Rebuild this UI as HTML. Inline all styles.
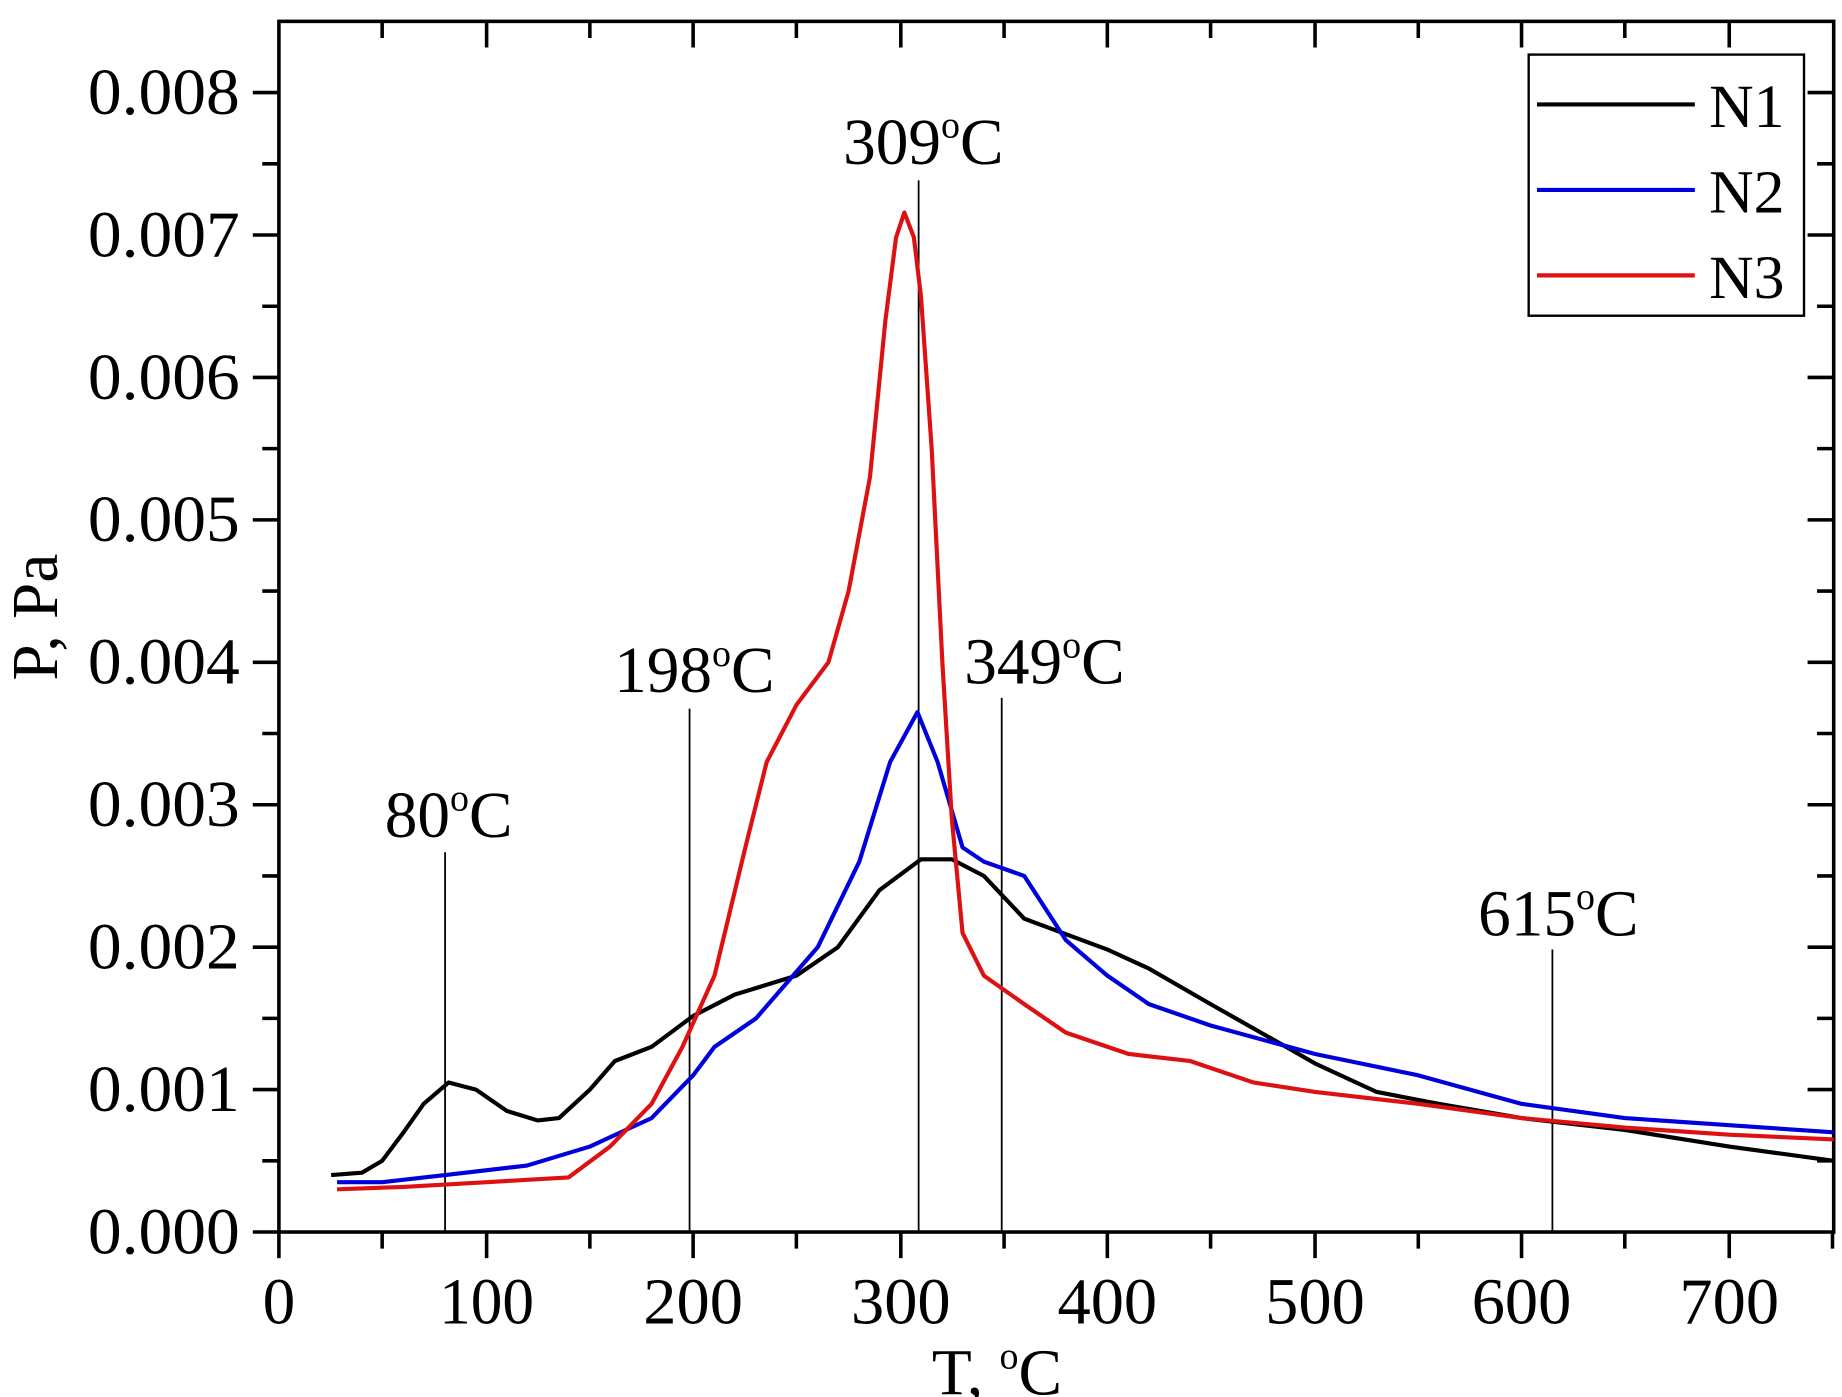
<!DOCTYPE html>
<html><head><meta charset="utf-8"><style>html,body{margin:0;padding:0;background:#fff}svg{display:block}</style></head>
<body>
<svg width="1842" height="1397" viewBox="0 0 1552 1177" preserveAspectRatio="none" xmlns="http://www.w3.org/2000/svg" font-family="Liberation Serif, serif">
<g stroke="#000" stroke-width="3">
<path d="M235,1038v22M322,1038v14M410,1038v22M497,1038v14M584,1038v22M671,1038v14M759,1038v22M846,1038v14M933,1038v22M1020,1038v14M1108,1038v22M1195,1038v14M1282,1038v22M1369,1038v14M1457,1038v22M1544,1038v14"/>
<path d="M322,18v14M410,18v22M497,18v14M584,18v22M671,18v14M759,18v22M846,18v14M933,18v22M1020,18v14M1108,18v22M1195,18v14M1282,18v22M1369,18v14M1457,18v22"/>
<path d="M213,78h22M221,138h14M213,198h22M221,258h14M213,318h22M221,378h14M213,438h22M221,498h14M213,558h22M221,618h14M213,678h22M221,738h14M213,798h22M221,858h14M213,918h22M221,978h14M213,1038h22"/>
<path d="M1545,78h-22M1545,138h-14M1545,198h-22M1545,258h-14M1545,318h-22M1545,378h-14M1545,438h-22M1545,498h-14M1545,558h-22M1545,618h-14M1545,678h-22M1545,738h-14M1545,798h-22M1545,858h-14M1545,918h-22M1545,978h-14"/>
</g>
<rect x="235" y="18" width="1310" height="1020" fill="none" stroke="#000" stroke-width="3"/>
<g stroke="#000" stroke-width="1.5">
<line x1="375" y1="1038" x2="375" y2="718"/>
<line x1="581" y1="1038" x2="581" y2="597"/>
<line x1="774" y1="1038" x2="774" y2="152"/>
<line x1="844" y1="1038" x2="844" y2="588"/>
<line x1="1308" y1="1038" x2="1308" y2="800"/>
</g>
<g fill="none" stroke-width="3.5" stroke-linejoin="round">
<polyline stroke="#000" points="279,990 305,988 322,978 340,954 357,930 378,912 401,918 427,936 453,944 471,942 497,918 518,894 549,882 584,856 619,838 671,822 706,798 741,750 776,724 802,724 829,738 863,774 933,800 968,816 1020,846 1073,876 1108,896 1160,920 1212,930 1282,942 1369,952 1457,966 1545,978"/>
<polyline stroke="#0000dd" points="284,996 322,996 375,990 444,982 497,966 549,942 584,906 602,882 637,858 689,798 724,726 750,642 773,600 790,642 811,714 829,726 863,738 898,792 933,822 968,846 1020,864 1108,888 1195,906 1282,930 1369,942 1457,948 1545,954"/>
<polyline stroke="#dd1111" points="284,1002 340,1000 410,996 479,992 514,966 549,930 575,882 602,822 628,714 646,642 671,594 698,558 715,498 733,402 746,270 755,200 762,179 770,200 776,250 785,378 794,558 802,690 811,786 829,822 863,846 898,870 951,888 1003,894 1056,912 1108,920 1195,930 1282,942 1369,950 1457,956 1545,960"/>
</g>
<g font-size="55" fill="#000" text-anchor="end">
<text x="202" y="96" textLength="128" lengthAdjust="spacingAndGlyphs">0.008</text><text x="202" y="216" textLength="128" lengthAdjust="spacingAndGlyphs">0.007</text><text x="202" y="336" textLength="128" lengthAdjust="spacingAndGlyphs">0.006</text><text x="202" y="456" textLength="128" lengthAdjust="spacingAndGlyphs">0.005</text><text x="202" y="576" textLength="128" lengthAdjust="spacingAndGlyphs">0.004</text><text x="202" y="696" textLength="128" lengthAdjust="spacingAndGlyphs">0.003</text><text x="202" y="816" textLength="128" lengthAdjust="spacingAndGlyphs">0.002</text><text x="202" y="936" textLength="128" lengthAdjust="spacingAndGlyphs">0.001</text><text x="202" y="1056" textLength="128" lengthAdjust="spacingAndGlyphs">0.000</text>
</g>
<g font-size="55" fill="#000" text-anchor="middle">
<text x="235" y="1115">0</text><text x="410" y="1115" textLength="80" lengthAdjust="spacingAndGlyphs">100</text><text x="584" y="1115" textLength="84" lengthAdjust="spacingAndGlyphs">200</text><text x="759" y="1115" textLength="84" lengthAdjust="spacingAndGlyphs">300</text><text x="933" y="1115" textLength="84" lengthAdjust="spacingAndGlyphs">400</text><text x="1108" y="1115" textLength="84" lengthAdjust="spacingAndGlyphs">500</text><text x="1282" y="1115" textLength="84" lengthAdjust="spacingAndGlyphs">600</text><text x="1457" y="1115" textLength="84" lengthAdjust="spacingAndGlyphs">700</text>
<text x="840" y="1175">T, <tspan font-size="32" dy="-22">o</tspan><tspan dy="22">C</tspan></text>
<text transform="translate(48,520) rotate(-90)">P, Pa</text>
<text x="378" y="705">80<tspan font-size="32" dy="-22">o</tspan><tspan dy="22">C</tspan></text>
<text x="585" y="583">198<tspan font-size="32" dy="-22">o</tspan><tspan dy="22">C</tspan></text>
<text x="778" y="138">309<tspan font-size="32" dy="-22">o</tspan><tspan dy="22">C</tspan></text>
<text x="880" y="576">349<tspan font-size="32" dy="-22">o</tspan><tspan dy="22">C</tspan></text>
<text x="1313" y="788">615<tspan font-size="32" dy="-22">o</tspan><tspan dy="22">C</tspan></text>
</g>
<rect x="1288" y="46" width="232" height="220" fill="#fff" stroke="#000" stroke-width="2"/>
<g stroke-width="3.5">
<line x1="1295" y1="88" x2="1428" y2="88" stroke="#000"/>
<line x1="1295" y1="160" x2="1428" y2="160" stroke="#0000dd"/>
<line x1="1295" y1="232" x2="1428" y2="232" stroke="#dd1111"/>
</g>
<g font-size="52" fill="#000">
<text x="1440" y="107">N1</text><text x="1440" y="179">N2</text><text x="1440" y="251">N3</text>
</g>
</svg>
</body></html>
